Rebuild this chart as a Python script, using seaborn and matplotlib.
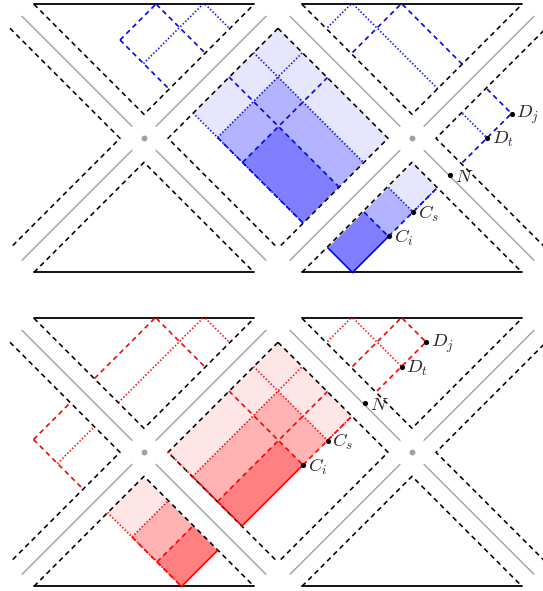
import matplotlib
matplotlib.use("Agg")
import matplotlib.pyplot as plt
import seaborn as sns

sns.set_theme(style="white")
plt.rcParams['mathtext.fontset'] = 'cm'
plt.rcParams['lines.scale_dashes'] = False

# layout of the two panels (pixels)
block_x = [144, 412]
panel_y = [138.3, 452.3]
gap = 24          # tip of the dashed wedges, distance from centre
arm = 110         # length of a wedge arm
gray_in, gray_out = 12, 122

# null coordinates a = x + y, b = x - y (local to each panel)
# regions: (a_lo, a_hi, b_lo, b_hi)
blue_light = [(306, 526, 80, 250), (576, 625, 80, 250)]
blue_mid = [(355, 526, 80, 201), (576, 625, 80, 201)]
blue_dark = [(405, 526, 80, 152), (576, 625, 80, 152)]
red_light = [(306, 454, 30, 250), (306, 454, -91, -19)]
red_mid = [(355, 454, 30, 201), (355, 454, -91, -19)]
red_dark = [(405, 454, 30, 152), (405, 454, -91, -19)]

# lines: (constant coordinate, value, lo, hi, style); None = runs to the top edge
blue_lines = [
    ('b', 201, 306, 526, 'dot'), ('b', 152, 306, 526, 'dash'),
    ('a', 355, 80, 250, 'dot'), ('a', 405, 80, 250, 'dash'),
    ('b', 80, 306, 526, 'dot'), ('b', 80, 355, 526, 'dash'),
    ('a', 160, 80, None, 'dash'), ('a', 207, 80, None, 'dot'),
    ('b', 80, 160, 258, 'dash'), ('b', 152, None, 258, 'dash'),
    ('b', 201, None, 258, 'dot'),
    ('a', 355, 300, None, 'dot'), ('a', 405, 300, None, 'dash'),
    ('b', 349, None, 527, 'dot'), ('b', 398, None, 527, 'dash'),
    ('a', 625, 300, 398, 'dash'), ('b', 398, 576, 625, 'dash'),
    ('b', 349, 576, 625, 'dot'),
    ('b', 80, 576, 625, 'solid'), ('a', 625, 80, 152, 'solid'),
    ('a', 625, 152, 250, 'dash'), ('a', 625, 201, 250, 'dot'),
    ('b', 201, 576, 625, 'dot'), ('b', 152, 576, 625, 'dash'),
]
red_lines = [
    ('a', 355, 30, 250, 'dot'), ('a', 405, 30, 250, 'dash'),
    ('b', 201, 306, 454, 'dot'), ('b', 152, 306, 454, 'dash'),
    ('b', 30, 306, 454, 'dot'), ('b', 30, 355, 454, 'dash'),
    ('a', 454, 30, 152, 'solid'), ('a', 454, 152, 250, 'dash'),
    ('a', 454, 201, 250, 'dot'),
    ('a', 355, -91, -19, 'dot'), ('a', 405, -91, -19, 'dash'),
    ('b', -91, 306, 454, 'dot'), ('b', -91, 355, 454, 'dash'),
    ('a', 454, -91, -19, 'solid'),
    ('a', 159, 30, None, 'dash'), ('a', 207, 30, None, 'dot'),
    ('b', 152, None, 258, 'dash'), ('b', 201, None, 258, 'dot'),
    ('a', 159, -92, -18, 'dash'), ('a', 207, -92, -18, 'dot'),
    ('b', -92, 159, 258, 'dash'),
    ('a', 355, 300, None, 'dot'), ('a', 405, 300, None, 'dash'),
    ('a', 454, 300, 398, 'dash'), ('b', 349, None, 454, 'dot'),
    ('b', 398, None, 454, 'dash'),
]

point_names = ['C_i', 'C_s', 'N', 'D_t', 'D_j']
blue_pt_a = [625, 625, 625, 625, 625]
blue_pt_b = [153, 201, 275, 349, 398]
red_pt_a = [454, 454, 454, 454, 454]
red_pt_b = [152, 201, 276, 349, 398]

styles = {'dash': (0, (3.6, 2.8)), 'dot': (0, (1.0, 1.5)), 'solid': '-'}
y_top = panel_y[0] - gap - arm


def to_xy(a, b, dy):
    return (a + b) / 2, (a - b) / 2 + dy


fig = plt.figure(figsize=(5.43, 5.91), dpi=100)
ax = fig.add_axes([0, 0, 1, 1])
ax.set_xlim(0, 543)
ax.set_ylim(591, 0)
ax.axis('off')

panels = [
    (blue_light, blue_mid, blue_dark, blue_lines, blue_pt_a, blue_pt_b,
     'blue', ['#e6e6ff', '#b3b3ff', '#8080ff']),
    (red_light, red_mid, red_dark, red_lines, red_pt_a, red_pt_b,
     'red', ['#ffe6e6', '#ffb3b3', '#ff8080']),
]

for p, (light, mid, dark, lines, pa, pb, col, fills) in enumerate(panels):
    cy = panel_y[p]
    dy = cy - panel_y[0]

    # shaded wedges
    for regs, fc in zip([light, mid, dark], fills):
        for a1, a2, b1, b2 in regs:
            corners = [to_xy(a, b, dy) for a, b in [(a1, b1), (a1, b2), (a2, b2), (a2, b1)]]
            ax.fill([c[0] for c in corners], [c[1] for c in corners], color=fc, lw=0, zorder=1)

    # skeleton of both diagrams
    for cx in block_x:
        for yy in [cy - gap - arm, cy + gap + arm]:
            ax.plot([cx - arm, cx + arm], [yy, yy], color='black', lw=1.3, zorder=3)
        for sx in [-1, 1]:
            for sy in [-1, 1]:
                ax.plot([cx + sx * gray_in, cx + sx * gray_out],
                        [cy + sy * gray_in, cy + sy * gray_out],
                        color='#a0a0a0', lw=1.0, zorder=2)
        for s in [-1, 1]:
            ax.plot([cx - arm, cx, cx + arm],
                    [cy + s * (gap + arm), cy + s * gap, cy + s * (gap + arm)],
                    color='black', lw=1.15, ls=styles['dash'], dash_capstyle='butt', zorder=3)
            ax.plot([cx + s * (gap + arm), cx + s * gap, cx + s * (gap + arm)],
                    [cy - arm, cy, cy + arm],
                    color='black', lw=1.15, ls=styles['dash'], dash_capstyle='butt', zorder=3)
    sns.scatterplot(x=block_x, y=[cy, cy], color='#a0a0a0', s=18, linewidth=0,
                    ax=ax, zorder=4)

    # coloured outlines
    for kind, val, lo, hi, st in lines:
        if kind == 'a':
            hi = val - 2 * y_top if hi is None else hi
            p0, p1 = to_xy(val, lo, dy), to_xy(val, hi, dy)
        else:
            lo = val + 2 * y_top if lo is None else lo
            p0, p1 = to_xy(lo, val, dy), to_xy(hi, val, dy)
        ax.plot([p0[0], p1[0]], [p0[1], p1[1]], color=col, lw=1.2,
                ls=styles[st], dash_capstyle='butt', zorder=5)

    # labelled points
    xs, ys = [], []
    for a, b, name in zip(pa, pb, point_names):
        x, y = to_xy(a, b, dy)
        xs.append(x)
        ys.append(y)
        ax.text(x + 5, y + 1.5, '$' + name + '$', fontsize=13.5, ha='left', va='center', zorder=7)
    sns.scatterplot(x=xs, y=ys, color='black', s=14, linewidth=0, ax=ax, zorder=6)

fig.savefig('out.png', dpi=100)
